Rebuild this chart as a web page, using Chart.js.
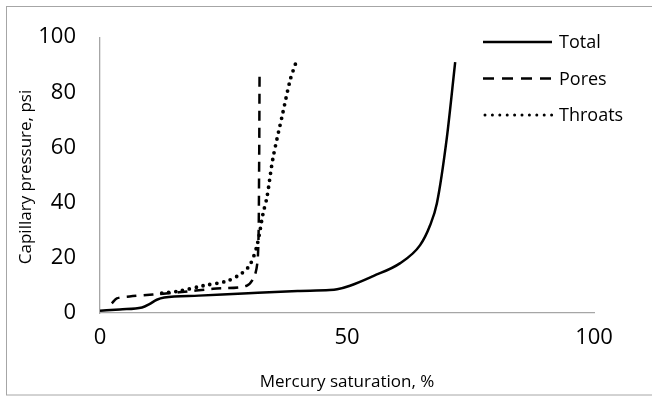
<!DOCTYPE html>
<html>
<head>
<meta charset="utf-8">
<script src="https://cdn.jsdelivr.net/npm/chart.js@4.4.0/dist/chart.umd.min.js"></script>
<style>
  body { margin: 0; background: #fff; }
  #wrap { width: 652px; height: 396px; position: relative; }
</style>
</head>
<body>
<div id="wrap"><canvas id="myChart"></canvas></div>
<script>
// datos
const totalX = [0, 4, 8.5, 10, 11.5, 13, 20, 30, 40, 46.5, 48, 50.6, 55.3, 60.7, 64.8, 66.8, 68.2, 70.2, 71.9];
const totalY = [0.8, 1.3, 2, 3.2, 4.8, 5.6, 6.3, 7.2, 8.0, 8.3, 8.6, 9.9, 13.4, 18, 24.6, 31.7, 39.8, 63.4, 91];

const poresX = [2.4, 3.4, 6, 10.7, 16, 22.9, 29.7, 31.4, 32, 32.2, 32.3];
const poresY = [3.5, 5.3, 6.0, 6.7, 7.5, 8.8, 9.9, 14, 22, 50, 87.3];

const throatsX = [12.5, 16.2, 20.9, 25.7, 28.7, 30.4, 31.8, 33, 33.8, 35, 37, 38.5, 39.6];
const throatsY = [7.2, 8, 9.9, 11.6, 14.4, 17.6, 24.6, 36, 42, 56, 72.5, 84.5, 90.5];

const nombres = ['Total', 'Pores', 'Throats'];
const xTicks = [0, 50, 100];
const yTicks = [0, 20, 40, 60, 80, 100];
const tituloX = 'Mercury saturation, %';
const tituloY = 'Capillary pressure, psi';

function puntos(xs, ys) {
    return xs.map((x, i) => ({ x: x, y: ys[i] }));
}

const fuente = '"Open Sans", sans-serif';

// leyenda y titulo del eje Y dibujados a mano
const leyenda = {
    id: 'leyenda',
    afterDraw(chart) {
        const ctx = chart.ctx;
        ctx.save();
        chart.data.datasets.forEach((ds, i) => {
            let y = 42 + i * 36.5;
            ctx.beginPath();
            ctx.strokeStyle = '#000';
            ctx.lineWidth = i == 2 ? 3 : 2.5;
            ctx.lineCap = i == 2 ? 'round' : 'butt';
            ctx.setLineDash(i == 0 ? [] : (i == 1 ? [11, 8] : [0, 7.4]));
            ctx.moveTo(i == 2 ? 485 : 483, y);
            ctx.lineTo(552, y);
            ctx.stroke();
            ctx.setLineDash([]);
            ctx.fillStyle = '#000';
            ctx.font = '18px ' + fuente;
            ctx.textBaseline = 'middle';
            ctx.fillText(ds.label, 559, y + 1);
        });

        // titulo eje Y
        ctx.save();
        ctx.translate(26, 177);
        ctx.rotate(-Math.PI / 2);
        ctx.font = '17px ' + fuente;
        ctx.textAlign = 'center';
        ctx.textBaseline = 'middle';
        ctx.fillStyle = '#000';
        ctx.fillText(tituloY, 0, 0);
        ctx.restore();

        // borde exterior
        ctx.strokeStyle = '#a6a6a6';
        ctx.lineWidth = 1;
        ctx.strokeRect(6.5, 6.5, 660, 388.5);
        ctx.restore();
    }
};

const config = {
    type: 'scatter',
    data: {
        datasets: [
            {
                label: nombres[0],
                data: puntos(totalX, totalY),
                showLine: true,
                borderColor: '#000',
                borderWidth: 2.5,
                pointRadius: 0,
                tension: 0.4,
                cubicInterpolationMode: 'monotone'
            },
            {
                label: nombres[1],
                data: puntos(poresX, poresY),
                showLine: true,
                borderColor: '#000',
                borderWidth: 2.5,
                borderDash: [10, 7],
                pointRadius: 0,
                tension: 0.3
            },
            {
                label: nombres[2],
                data: puntos(throatsX, throatsY),
                showLine: true,
                borderColor: '#000',
                borderWidth: 3.8,
                borderDash: [0, 7],
                borderCapStyle: 'round',
                pointRadius: 0,
                tension: 0.3
            }
        ]
    },
    options: {
        responsive: true,
        maintainAspectRatio: false,
        animation: false,
        layout: { padding: { top: 29, right: 58, left: 0, bottom: 0 } },
        plugins: {
            legend: { display: false },
            tooltip: { enabled: false }
        },
        scales: {
            x: {
                type: 'linear',
                min: 0,
                max: 100,
                afterBuildTicks: (s) => { s.ticks = xTicks.map(v => ({ value: v })); },
                afterFit: (s) => { s.height = 83; },
                grid: { display: false, drawTicks: false },
                border: { color: '#a6a6a6', width: 1.3 },
                ticks: { color: '#000', font: { family: fuente, size: 22 }, padding: 12 },
                title: { display: true, text: tituloX, color: '#000', font: { family: fuente, size: 17 }, padding: { top: 6 } }
            },
            y: {
                type: 'linear',
                min: 0,
                max: 100,
                afterBuildTicks: (s) => { s.ticks = yTicks.map(v => ({ value: v })); },
                afterFit: (s) => { s.width = 100; },
                grid: { display: false, drawTicks: false },
                border: { color: '#a6a6a6', width: 1.3 },
                ticks: { color: '#000', font: { family: fuente, size: 22 }, padding: 24 },
                title: { display: false }
            }
        }
    },
    plugins: [leyenda]
};

new Chart(document.getElementById('myChart'), config);
</script>
</body>
</html>
